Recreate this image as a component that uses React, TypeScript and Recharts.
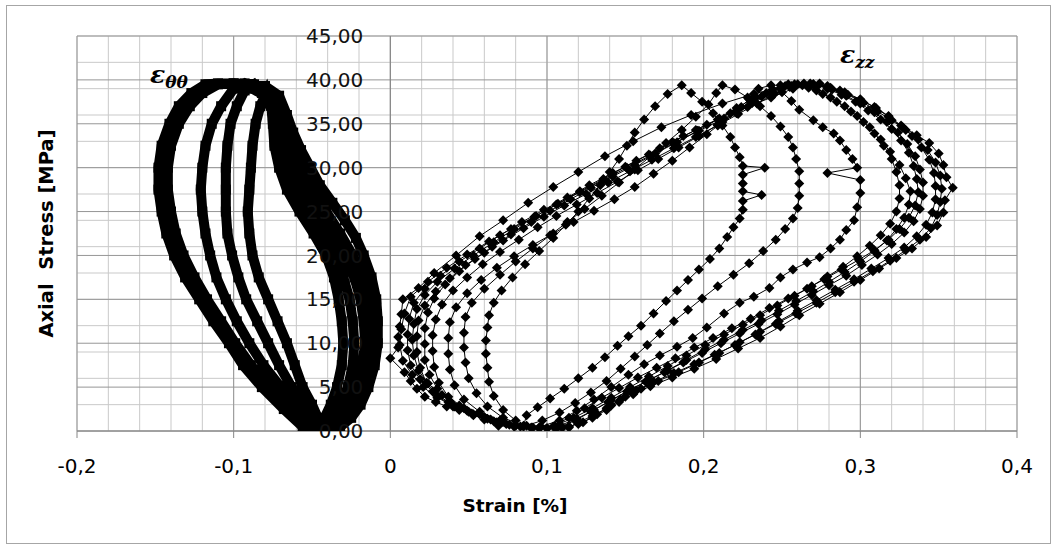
import React from 'react';
import { ScatterChart, Scatter, XAxis, YAxis, CartesianGrid, ReferenceLine, ReferenceDot, Label } from 'recharts';

type Pt = [number, number];

const xTicks = [-0.2, -0.1, 0, 0.1, 0.2, 0.3, 0.4];
const yTicks = [0, 5, 10, 15, 20, 25, 30, 35, 40, 45];
const xMinor = [-0.2, -0.18, -0.16, -0.14, -0.12, -0.1, -0.08, -0.06, -0.04, -0.02, 0, 0.02, 0.04, 0.06, 0.08, 0.1, 0.12, 0.14, 0.16, 0.18, 0.2, 0.22, 0.24, 0.26, 0.28, 0.3, 0.32, 0.34, 0.36, 0.38, 0.4];
const yMinor = [0, 1, 2, 3, 4, 5, 6, 7, 8, 9, 10, 11, 12, 13, 14, 15, 16, 17, 18, 19, 20, 21, 22, 23, 24, 25, 26, 27, 28, 29, 30, 31, 32, 33, 34, 35, 36, 37, 38, 39, 40, 41, 42, 43, 44, 45];

// hoop strain (eps_theta_theta), one array per cycle
const ttCycle1: Pt[] = [[-0.045, 1.0], [-0.050, 3.0], [-0.056, 5.0], [-0.061, 7.5], [-0.066, 10.0], [-0.072, 12.5], [-0.078, 15.0], [-0.084, 17.5], [-0.088, 20.0], [-0.090, 22.5], [-0.091, 25.0], [-0.090, 27.5], [-0.089, 30.0], [-0.088, 32.5], [-0.086, 35.0], [-0.083, 37.0], [-0.079, 38.6], [-0.076, 37.0], [-0.075, 35.0], [-0.074, 32.5], [-0.071, 30.0], [-0.066, 27.5], [-0.058, 25.0], [-0.049, 22.5], [-0.041, 20.0], [-0.036, 17.5], [-0.033, 15.0], [-0.031, 12.5], [-0.030, 10.0], [-0.031, 7.5], [-0.034, 5.0], [-0.038, 3.0], [-0.042, 1.5]];
const ttCycle2: Pt[] = [[-0.047, 0.5], [-0.054, 2.5], [-0.063, 5.0], [-0.071, 7.5], [-0.078, 10.0], [-0.085, 12.5], [-0.092, 15.0], [-0.097, 17.5], [-0.101, 20.0], [-0.104, 22.5], [-0.105, 25.0], [-0.105, 27.5], [-0.105, 30.0], [-0.104, 32.5], [-0.102, 35.0], [-0.098, 37.0], [-0.093, 38.8], [-0.087, 39.5], [-0.080, 38.0], [-0.074, 36.0], [-0.071, 34.0], [-0.069, 32.0], [-0.066, 30.0], [-0.060, 27.5], [-0.053, 25.0], [-0.045, 22.5], [-0.036, 20.0], [-0.030, 17.5], [-0.026, 15.0], [-0.024, 12.5], [-0.023, 10.0], [-0.024, 7.5], [-0.027, 5.0], [-0.032, 3.0], [-0.038, 1.5], [-0.043, 0.7]];
const ttCycle3: Pt[] = [[-0.050, 0.5], [-0.059, 2.5], [-0.070, 5.0], [-0.081, 7.5], [-0.090, 10.0], [-0.098, 12.5], [-0.105, 15.0], [-0.111, 17.5], [-0.115, 20.0], [-0.118, 22.5], [-0.120, 25.0], [-0.121, 27.5], [-0.120, 30.0], [-0.118, 32.5], [-0.114, 35.0], [-0.108, 37.0], [-0.100, 39.0], [-0.093, 39.6], [-0.082, 38.5], [-0.073, 37.0], [-0.068, 35.0], [-0.064, 32.5], [-0.060, 30.0], [-0.054, 27.5], [-0.047, 25.0], [-0.038, 22.5], [-0.030, 20.0], [-0.023, 17.5], [-0.019, 15.0], [-0.017, 12.5], [-0.016, 10.0], [-0.018, 7.5], [-0.021, 5.0], [-0.026, 3.0], [-0.033, 1.5], [-0.040, 0.6]];
const ttCycle4: Pt[] = [[-0.053, 0.4], [-0.064, 2.5], [-0.077, 5.0], [-0.089, 7.5], [-0.099, 10.0], [-0.108, 12.5], [-0.117, 15.0], [-0.125, 17.5], [-0.132, 20.0], [-0.137, 22.5], [-0.140, 25.0], [-0.142, 27.5], [-0.142, 30.0], [-0.140, 32.5], [-0.135, 35.0], [-0.128, 37.0], [-0.120, 38.5], [-0.110, 39.5], [-0.100, 39.6], [-0.088, 39.0], [-0.078, 38.0], [-0.070, 36.0], [-0.064, 34.0], [-0.059, 32.0], [-0.055, 30.0], [-0.049, 27.5], [-0.041, 25.0], [-0.032, 22.5], [-0.024, 20.0], [-0.018, 17.5], [-0.014, 15.0], [-0.012, 12.5], [-0.011, 10.0], [-0.013, 7.5], [-0.017, 5.0], [-0.022, 3.0], [-0.029, 1.5], [-0.036, 0.5]];
const ttCycle5: Pt[] = [[-0.056, 0.5], [-0.068, 2.5], [-0.082, 5.0], [-0.094, 7.5], [-0.103, 10.0], [-0.113, 12.5], [-0.122, 15.0], [-0.131, 17.5], [-0.138, 20.0], [-0.143, 22.5], [-0.146, 25.0], [-0.148, 27.5], [-0.148, 30.0], [-0.146, 32.5], [-0.141, 35.0], [-0.135, 37.0], [-0.127, 38.5], [-0.118, 39.5], [-0.110, 39.6], [-0.100, 39.6], [-0.090, 39.5], [-0.080, 39.3], [-0.071, 38.2], [-0.066, 36.0], [-0.062, 34.0], [-0.057, 32.0], [-0.051, 30.0], [-0.045, 28.0], [-0.037, 26.0], [-0.029, 24.0], [-0.022, 22.0], [-0.017, 20.0], [-0.012, 17.5], [-0.009, 15.0], [-0.008, 12.5], [-0.008, 10.0], [-0.010, 7.5], [-0.014, 5.0], [-0.019, 3.0], [-0.025, 1.5], [-0.032, 0.5], [-0.040, 0.3], [-0.048, 0.3]];

// axial strain (eps_zz), one array per cycle
const zzCycle1: Pt[] = [[0.080, 1.2], [0.072, 2.4], [0.066, 4.0], [0.063, 5.6], [0.062, 7.2], [0.061, 8.8], [0.061, 10.3], [0.062, 11.8], [0.063, 13.2], [0.066, 14.6], [0.071, 16.0], [0.078, 17.5], [0.086, 19.0], [0.095, 20.5], [0.104, 22.0], [0.112, 23.5], [0.120, 25.0], [0.127, 26.5], [0.134, 28.0], [0.140, 29.5], [0.146, 31.0], [0.151, 32.5], [0.156, 34.0], [0.162, 35.5], [0.169, 37.0], [0.177, 38.4], [0.186, 39.4], [0.192, 38.5], [0.199, 37.5], [0.206, 36.2], [0.212, 34.8], [0.217, 33.5], [0.220, 32.3], [0.223, 31.2], [0.225, 30.2], [0.239, 30.0], [0.225, 29.2], [0.225, 28.2], [0.225, 27.3], [0.237, 26.9], [0.225, 26.2], [0.225, 25.2], [0.223, 24.2], [0.219, 23.2], [0.215, 22.1], [0.210, 20.8], [0.204, 19.6], [0.197, 18.4], [0.190, 17.2], [0.183, 16.0], [0.176, 14.8], [0.168, 13.4], [0.160, 12.0], [0.152, 10.8], [0.145, 9.7], [0.137, 8.4], [0.129, 7.2], [0.120, 6.0], [0.111, 4.8], [0.102, 3.7], [0.094, 2.7], [0.087, 1.8]];
const zzCycle2: Pt[] = [[0.085, 0.6], [0.072, 1.5], [0.062, 2.8], [0.055, 4.3], [0.050, 6.0], [0.048, 7.8], [0.047, 9.5], [0.047, 11.2], [0.048, 13.0], [0.052, 14.6], [0.060, 16.2], [0.070, 17.8], [0.080, 19.3], [0.091, 20.8], [0.102, 22.3], [0.113, 23.8], [0.124, 25.3], [0.135, 26.8], [0.146, 28.3], [0.156, 29.8], [0.166, 31.3], [0.176, 32.8], [0.186, 34.3], [0.195, 35.8], [0.203, 37.2], [0.208, 38.5], [0.212, 39.4], [0.220, 38.9], [0.228, 38.0], [0.236, 37.0], [0.243, 35.9], [0.249, 34.7], [0.254, 33.5], [0.257, 32.3], [0.259, 31.0], [0.261, 29.6], [0.261, 28.2], [0.261, 26.8], [0.260, 25.4], [0.257, 24.2], [0.252, 23.0], [0.246, 21.8], [0.238, 20.5], [0.229, 19.1], [0.219, 17.8], [0.209, 16.5], [0.199, 15.1], [0.190, 13.8], [0.181, 12.5], [0.172, 11.1], [0.164, 9.8], [0.156, 8.5], [0.147, 7.1], [0.138, 5.7], [0.128, 4.4], [0.118, 3.2], [0.108, 2.1], [0.097, 1.2]];
const zzCycle3: Pt[] = [[0.085, 0.5], [0.070, 1.2], [0.057, 2.2], [0.047, 3.6], [0.041, 5.2], [0.038, 7.0], [0.037, 8.8], [0.037, 10.6], [0.038, 12.4], [0.042, 14.1], [0.049, 15.7], [0.058, 17.2], [0.068, 18.6], [0.079, 19.9], [0.091, 21.2], [0.104, 22.5], [0.117, 23.8], [0.130, 25.1], [0.143, 26.4], [0.156, 27.8], [0.168, 29.3], [0.180, 30.8], [0.191, 32.3], [0.202, 33.8], [0.212, 35.2], [0.221, 36.5], [0.229, 37.8], [0.235, 39.0], [0.243, 39.4], [0.250, 38.6], [0.256, 37.6], [0.261, 36.6], [0.270, 35.4], [0.276, 34.6], [0.283, 33.9], [0.287, 33.1], [0.291, 32.0], [0.295, 31.0], [0.298, 30.0], [0.279, 29.4], [0.300, 28.6], [0.300, 27.1], [0.298, 25.5], [0.296, 24.0], [0.291, 22.9], [0.287, 21.8], [0.281, 20.8], [0.274, 19.8], [0.266, 19.2], [0.257, 18.4], [0.249, 17.5], [0.242, 16.3], [0.232, 15.3], [0.223, 14.6], [0.213, 13.4], [0.202, 11.8], [0.193, 10.6], [0.183, 9.6], [0.172, 8.6], [0.162, 7.6], [0.152, 6.4], [0.141, 5.0], [0.130, 3.6], [0.119, 2.3], [0.108, 1.2], [0.096, 0.5]];
const zzCycle4: Pt[] = [[0.090, 0.4], [0.074, 0.8], [0.060, 1.6], [0.047, 2.6], [0.037, 3.9], [0.031, 5.5], [0.028, 7.3], [0.027, 9.1], [0.027, 10.9], [0.029, 12.7], [0.033, 14.4], [0.040, 16.0], [0.049, 17.5], [0.059, 19.0], [0.070, 20.4], [0.082, 21.8], [0.094, 23.2], [0.106, 24.5], [0.119, 25.8], [0.132, 27.1], [0.145, 28.4], [0.158, 29.7], [0.171, 31.0], [0.184, 32.3], [0.197, 33.6], [0.209, 34.9], [0.221, 36.2], [0.231, 37.4], [0.240, 38.5], [0.249, 39.4], [0.258, 39.5], [0.267, 39.1], [0.276, 38.4], [0.285, 37.5], [0.294, 36.4], [0.302, 35.2], [0.309, 33.9], [0.315, 32.5], [0.320, 31.0], [0.323, 29.5], [0.325, 28.0], [0.325, 26.5], [0.323, 25.0], [0.319, 23.6], [0.313, 22.3], [0.306, 21.1], [0.298, 19.9], [0.289, 18.7], [0.279, 17.6], [0.269, 16.5], [0.258, 15.4], [0.247, 14.3], [0.236, 13.2], [0.225, 12.1], [0.213, 11.0], [0.201, 9.8], [0.189, 8.6], [0.177, 7.4], [0.165, 6.2], [0.153, 5.0], [0.141, 3.8], [0.129, 2.6], [0.117, 1.5], [0.105, 0.6]];
const zzCycle5: Pt[] = [[0.095, 0.4], [0.079, 0.6], [0.064, 1.3], [0.050, 2.2], [0.038, 3.4], [0.030, 4.8], [0.025, 6.4], [0.022, 8.1], [0.022, 9.9], [0.022, 11.7], [0.024, 13.5], [0.028, 15.1], [0.035, 16.7], [0.044, 18.2], [0.054, 19.6], [0.065, 21.0], [0.077, 22.4], [0.090, 23.8], [0.102, 25.1], [0.115, 26.4], [0.128, 27.7], [0.142, 29.0], [0.156, 30.3], [0.169, 31.6], [0.183, 32.9], [0.196, 34.2], [0.209, 35.5], [0.221, 36.8], [0.233, 38.0], [0.244, 38.9], [0.254, 39.5], [0.263, 39.4], [0.272, 38.8], [0.281, 38.0], [0.290, 37.0], [0.298, 35.9], [0.306, 34.6], [0.313, 33.2], [0.319, 31.8], [0.325, 30.3], [0.329, 28.8], [0.332, 27.3], [0.331, 25.8], [0.328, 24.3], [0.323, 23.0], [0.317, 21.7], [0.309, 20.5], [0.300, 19.3], [0.290, 18.1], [0.280, 17.0], [0.270, 15.9], [0.259, 14.8], [0.248, 13.7], [0.237, 12.6], [0.225, 11.5], [0.213, 10.4], [0.201, 9.3], [0.189, 8.1], [0.177, 6.9], [0.165, 5.8], [0.153, 4.7], [0.141, 3.5], [0.130, 2.4], [0.119, 1.4], [0.108, 0.6]];
const zzCycle6: Pt[] = [[0.104, 0.5], [0.087, 0.6], [0.071, 1.1], [0.057, 1.9], [0.044, 2.9], [0.033, 4.1], [0.024, 5.4], [0.018, 6.9], [0.015, 8.6], [0.014, 10.4], [0.015, 12.2], [0.017, 13.9], [0.022, 15.5], [0.030, 17.0], [0.041, 18.5], [0.053, 20.0], [0.066, 21.5], [0.079, 23.0], [0.093, 24.5], [0.107, 25.9], [0.121, 27.3], [0.136, 28.7], [0.150, 30.1], [0.165, 31.5], [0.180, 32.9], [0.195, 34.3], [0.210, 35.6], [0.224, 36.9], [0.237, 38.1], [0.249, 39.0], [0.260, 39.5], [0.270, 39.5], [0.279, 39.0], [0.288, 38.3], [0.297, 37.5], [0.305, 36.5], [0.313, 35.5], [0.320, 34.4], [0.326, 33.1], [0.331, 31.7], [0.334, 30.2], [0.336, 28.7], [0.337, 27.2], [0.335, 25.7], [0.331, 24.3], [0.325, 23.0], [0.318, 21.8], [0.309, 20.6], [0.299, 19.5], [0.288, 18.4], [0.277, 17.3], [0.266, 16.2], [0.254, 15.1], [0.242, 14.0], [0.230, 12.8], [0.218, 11.7], [0.206, 10.6], [0.194, 9.5], [0.182, 8.3], [0.170, 7.2], [0.158, 6.1], [0.146, 4.9], [0.135, 3.8], [0.124, 2.6], [0.114, 1.5]];
const zzCycle7: Pt[] = [[0.100, 0.3], [0.083, 0.5], [0.068, 1.0], [0.053, 1.8], [0.040, 2.8], [0.030, 4.0], [0.023, 5.5], [0.019, 7.2], [0.017, 9.0], [0.017, 10.8], [0.018, 12.6], [0.022, 14.3], [0.029, 15.9], [0.038, 17.4], [0.048, 18.9], [0.060, 20.3], [0.072, 21.7], [0.085, 23.1], [0.098, 24.4], [0.111, 25.7], [0.125, 27.0], [0.139, 28.3], [0.153, 29.6], [0.167, 30.9], [0.181, 32.2], [0.195, 33.5], [0.209, 34.8], [0.222, 36.1], [0.234, 37.3], [0.245, 38.4], [0.255, 39.2], [0.264, 39.6], [0.273, 39.4], [0.282, 38.9], [0.291, 38.2], [0.300, 37.3], [0.309, 36.3], [0.317, 35.2], [0.324, 34.0], [0.330, 32.7], [0.335, 31.3], [0.338, 29.8], [0.340, 28.3], [0.340, 26.8], [0.338, 25.3], [0.334, 23.9], [0.328, 22.6], [0.320, 21.3], [0.311, 20.1], [0.301, 18.9], [0.291, 17.7], [0.280, 16.6], [0.269, 15.5], [0.258, 14.4], [0.247, 13.3], [0.235, 12.2], [0.223, 11.1], [0.211, 10.0], [0.199, 8.9], [0.187, 7.8], [0.175, 6.7], [0.163, 5.6], [0.151, 4.5], [0.139, 3.3], [0.128, 2.2], [0.118, 1.2], [0.109, 0.5]];
const zzCycle8: Pt[] = [[0.106, 0.3], [0.091, 0.4], [0.076, 0.7], [0.062, 1.4], [0.049, 2.3], [0.037, 3.3], [0.027, 4.5], [0.019, 5.9], [0.013, 7.5], [0.011, 9.2], [0.011, 11.0], [0.012, 12.8], [0.015, 14.6], [0.022, 16.2], [0.032, 17.7], [0.044, 19.3], [0.057, 20.8], [0.070, 22.3], [0.084, 23.8], [0.098, 25.2], [0.113, 26.6], [0.127, 28.0], [0.142, 29.4], [0.157, 30.8], [0.172, 32.2], [0.187, 33.6], [0.202, 34.9], [0.217, 36.2], [0.231, 37.4], [0.244, 38.5], [0.256, 39.3], [0.268, 39.6], [0.279, 39.3], [0.290, 38.6], [0.300, 37.8], [0.309, 36.9], [0.318, 35.9], [0.326, 34.8], [0.333, 33.6], [0.339, 32.3], [0.344, 30.9], [0.347, 29.4], [0.348, 27.9], [0.348, 26.4], [0.346, 24.9], [0.342, 23.5], [0.336, 22.2], [0.328, 20.9], [0.318, 19.7], [0.307, 18.5], [0.296, 17.3], [0.284, 16.1], [0.272, 14.9], [0.260, 13.7], [0.248, 12.5], [0.236, 11.3], [0.223, 10.1], [0.210, 8.9], [0.197, 7.8], [0.184, 6.7], [0.171, 5.7], [0.160, 4.8], [0.150, 3.9], [0.141, 2.9], [0.132, 1.9], [0.123, 1.0], [0.114, 0.5]];
const zzCycle9: Pt[] = [[0.110, 0.4], [0.095, 0.3], [0.080, 0.6], [0.066, 1.1], [0.053, 1.9], [0.041, 2.8], [0.030, 3.8], [0.021, 5.0], [0.014, 6.4], [0.008, 8.0], [0.006, 9.8], [0.007, 11.6], [0.009, 13.4], [0.013, 15.3], [0.024, 17.0], [0.036, 18.6], [0.049, 20.1], [0.063, 21.6], [0.077, 23.0], [0.092, 24.4], [0.106, 25.8], [0.121, 27.2], [0.136, 28.6], [0.151, 30.0], [0.166, 31.4], [0.181, 32.8], [0.197, 34.2], [0.213, 35.6], [0.228, 36.9], [0.243, 38.0], [0.257, 39.0], [0.270, 39.5], [0.281, 39.1], [0.292, 38.3], [0.302, 37.4], [0.311, 36.4], [0.320, 35.4], [0.329, 34.3], [0.337, 33.2], [0.343, 32.0], [0.348, 30.6], [0.351, 29.1], [0.352, 27.6], [0.351, 26.1], [0.349, 24.6], [0.345, 23.1], [0.338, 21.8], [0.329, 20.6], [0.319, 19.4], [0.308, 18.2], [0.296, 17.0], [0.284, 15.8], [0.272, 14.6], [0.259, 13.4], [0.246, 12.2], [0.233, 11.0], [0.220, 9.8], [0.207, 8.7], [0.194, 7.6], [0.181, 6.6], [0.168, 5.6], [0.157, 4.6], [0.147, 3.6], [0.138, 2.6], [0.129, 1.7], [0.120, 1.0]];
const zzCycle10: Pt[] = [[0.114, 0.4], [0.100, 0.3], [0.090, 0.3], [0.079, 0.5], [0.069, 0.6], [0.060, 1.3], [0.052, 2.0], [0.044, 2.4], [0.036, 2.8], [0.029, 3.3], [0.022, 3.9], [0.017, 4.8], [0.013, 5.7], [0.009, 6.7], [0.000, 8.3], [0.005, 9.5], [0.005, 10.7], [0.006, 11.9], [0.007, 13.3], [0.008, 15.0], [0.018, 16.3], [0.028, 18.0], [0.042, 20.0], [0.057, 22.2], [0.072, 24.0], [0.088, 26.0], [0.104, 27.8], [0.120, 29.5], [0.137, 31.3], [0.155, 33.0], [0.173, 34.6], [0.192, 36.0], [0.212, 37.3], [0.232, 38.4], [0.252, 39.3], [0.274, 39.6], [0.287, 38.8], [0.300, 37.7], [0.310, 36.8], [0.318, 35.8], [0.327, 34.6], [0.336, 33.7], [0.344, 32.8], [0.350, 31.6], [0.353, 30.3], [0.355, 28.9], [0.359, 27.7], [0.354, 26.3], [0.353, 24.9], [0.349, 23.4], [0.342, 22.1], [0.333, 20.8], [0.323, 19.7], [0.312, 18.5], [0.300, 17.2], [0.287, 15.8], [0.274, 14.5], [0.261, 13.2], [0.249, 11.9], [0.236, 10.6], [0.222, 9.4], [0.208, 8.2], [0.194, 7.1], [0.180, 6.1], [0.166, 5.1], [0.155, 4.2], [0.146, 3.3], [0.138, 2.4], [0.129, 1.5], [0.120, 0.8]];

const toPoints = (cycles: Pt[][]) => cycles.flat().map(([x, y]) => ({ x, y }));
const thetaData = toPoints([ttCycle1, ttCycle2, ttCycle3, ttCycle4, ttCycle5]);
const zzData = toPoints([zzCycle1, zzCycle2, zzCycle3, zzCycle4, zzCycle5, zzCycle6, zzCycle7, zzCycle8, zzCycle9, zzCycle10]);

const fmtX = (v: number) => (v === 0 ? '0' : v.toFixed(1).replace('.', ','));
const fmtY = (v: number) => v.toFixed(2).replace('.', ',');

const FONT = "'DejaVu Sans', sans-serif";

const Diamond = (p: any) => {
  const { cx, cy } = p;
  return <path d={`M${cx},${cy - 5}L${cx + 5},${cy}L${cx},${cy + 5}L${cx - 5},${cy}Z`} fill="#000" />;
};

const Square = (p: any) => <rect x={p.cx - 5} y={p.cy - 5} width={10} height={10} fill="#000" />;

const epsLabel = (sub: string) => (props: any) => {
  const { viewBox } = props;
  return (
    <text x={viewBox.x} y={viewBox.y} fontFamily="'DejaVu Serif', serif" fontStyle="italic" fontWeight="bold" fontSize={25} fill="#000">
      ε<tspan fontSize={17} dy={5}>{sub}</tspan>
    </text>
  );
};

export default function App() {
  return (
    <div style={{ position: 'absolute', left: 0, top: 0, width: 1056, height: 549, background: '#fff' }}>
      <div style={{ position: 'absolute', left: 6, top: 5, width: 1043, height: 537, border: '1px solid #a6a6a6' }} />
      <div style={{ position: 'absolute', left: 0, top: 0 }}>
        <ScatterChart width={1056} height={549} margin={{ top: 36, right: 39, bottom: 23, left: 6 }}>
          <CartesianGrid stroke="#c9c9c9" horizontalValues={yMinor} verticalValues={xMinor} />
          <CartesianGrid stroke="#969696" horizontalValues={yTicks} verticalValues={xTicks} />
          <XAxis
            type="number"
            dataKey="x"
            domain={[-0.2, 0.4]}
            ticks={xTicks}
            interval={0}
            tickFormatter={fmtX}
            tickSize={7}
            tickMargin={21}
            height={95}
            stroke="#868686"
            tick={{ fill: '#000', fontSize: 20, fontFamily: FONT }}
            allowDataOverflow
          >
            <Label value="Strain [%]" position="insideBottom" offset={14} dx={-32} fill="#000" fontSize={18.5} fontWeight="bold" fontFamily={FONT} />
          </XAxis>
          <YAxis
            type="number"
            dataKey="y"
            domain={[0, 45]}
            ticks={yTicks}
            width={71}
            axisLine={false}
            tickLine={false}
            tick={() => null}
            allowDataOverflow
          >
            <Label value={'Axial\u00A0 Stress [MPa]'} angle={-90} position="center" dx={5} fill="#000" fontSize={19.5} fontWeight="bold" fontFamily={FONT} />
          </YAxis>
          <ReferenceLine x={0} stroke="#868686" />
          {yTicks.map((v) => (
            <ReferenceDot
              key={v}
              x={0}
              y={v}
              r={0}
              stroke="none"
              fill="none"
              label={{ value: fmtY(v), position: 'left', offset: 27, fill: '#111', fontSize: 20, fontFamily: FONT }}
            />
          ))}
          <Scatter
            name="eps_tt"
            data={thetaData}
            shape={Square}
            line={{ stroke: '#000', strokeWidth: 10 }}
            lineType="joint"
            isAnimationActive={false}
          />
          <Scatter
            name="eps_zz"
            data={zzData}
            shape={Diamond}
            line={{ stroke: '#000', strokeWidth: 1 }}
            lineType="joint"
            isAnimationActive={false}
          />
          <ReferenceDot x={-0.1534} y={39.64} r={0} stroke="none" fill="none" label={epsLabel('θθ')} />
          <ReferenceDot x={0.287} y={41.91} r={0} stroke="none" fill="none" label={epsLabel('zz')} />
        </ScatterChart>
      </div>
    </div>
  );
}
